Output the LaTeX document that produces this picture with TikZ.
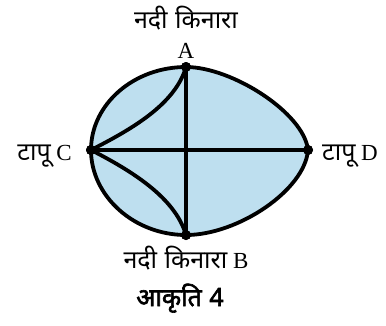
\documentclass[tikz,border=0pt]{standalone}
\usepackage{fontspec}
\setmainfont{Liberation Serif}
\newfontfamily\deva[Script=Devanagari]{Noto Sans}
\newfontfamily\devab[Script=Devanagari,FakeBold=2.5]{Noto Sans}
\definecolor{lake}{RGB}{190,223,239}
\begin{document}
\begin{tikzpicture}[x=1pt,y=-1pt,
  edge/.style={line width=3.8pt,line join=round},
  dot/.style={circle,fill=black,inner sep=0pt,minimum size=10pt},
  lbl/.style={inner sep=0pt,font=\fontsize{23}{26}\selectfont},
  dv/.style={font=\fontsize{25}{28}\selectfont\deva}]
\useasboundingbox (0,0) rectangle (386,325);
\node[dot] (A) at (186,67) {};
\node[dot] (B) at (186,235) {};
\node[dot] (C) at (91,150) {};
\node[dot] (D) at (308,150) {};
\fill[lake] (A.center) .. controls (232,67) and (304,113) .. (D.center)
  .. controls (305,190) and (238,235) .. (B.center)
  .. controls (134,235) and (91,196) .. (C.center)
  .. controls (91,104) and (134,67) .. (A.center) -- cycle;
\draw[edge] (A.center) .. controls (232,67) and (304,113) .. (D.center)
  .. controls (305,190) and (238,235) .. (B.center)
  .. controls (134,235) and (91,196) .. (C.center)
  .. controls (91,104) and (134,67) .. (A.center) -- cycle;
\draw[edge] (A.center) -- (B.center);
\draw[edge] (C.center) -- (D.center);
\draw[edge] (C.center) .. controls (130,130) and (175,105) .. (A.center);
\draw[edge] (C.center) .. controls (130,170) and (175,197) .. (B.center);
\node[dot] at (A) {};
\node[dot] at (B) {};
\node[dot] at (C) {};
\node[dot] at (D) {};
\node[lbl,dv,anchor=base] (tA) at (186,28) {नदी\hspace{0.3em}किनारा};
\node[lbl,anchor=base] (lA) at (186,58) {A};
\node[lbl,anchor=base east] (lC) at (72,160) {{\fontsize{25}{28}\selectfont\deva टापू} C};
\node[lbl,anchor=base west] (lD) at (322,160) {{\fontsize{25}{28}\selectfont\deva टापू} D};
\node[lbl,anchor=base] (lB) at (186,268) {{\fontsize{25}{28}\selectfont\deva नदी\hspace{0.3em}किनारा} B};
\node[lbl,anchor=base] (cap) at (180,306) {\fontsize{25}{28}\selectfont\devab आकृति\hspace{0.3em}4};
\end{tikzpicture}
\end{document}
